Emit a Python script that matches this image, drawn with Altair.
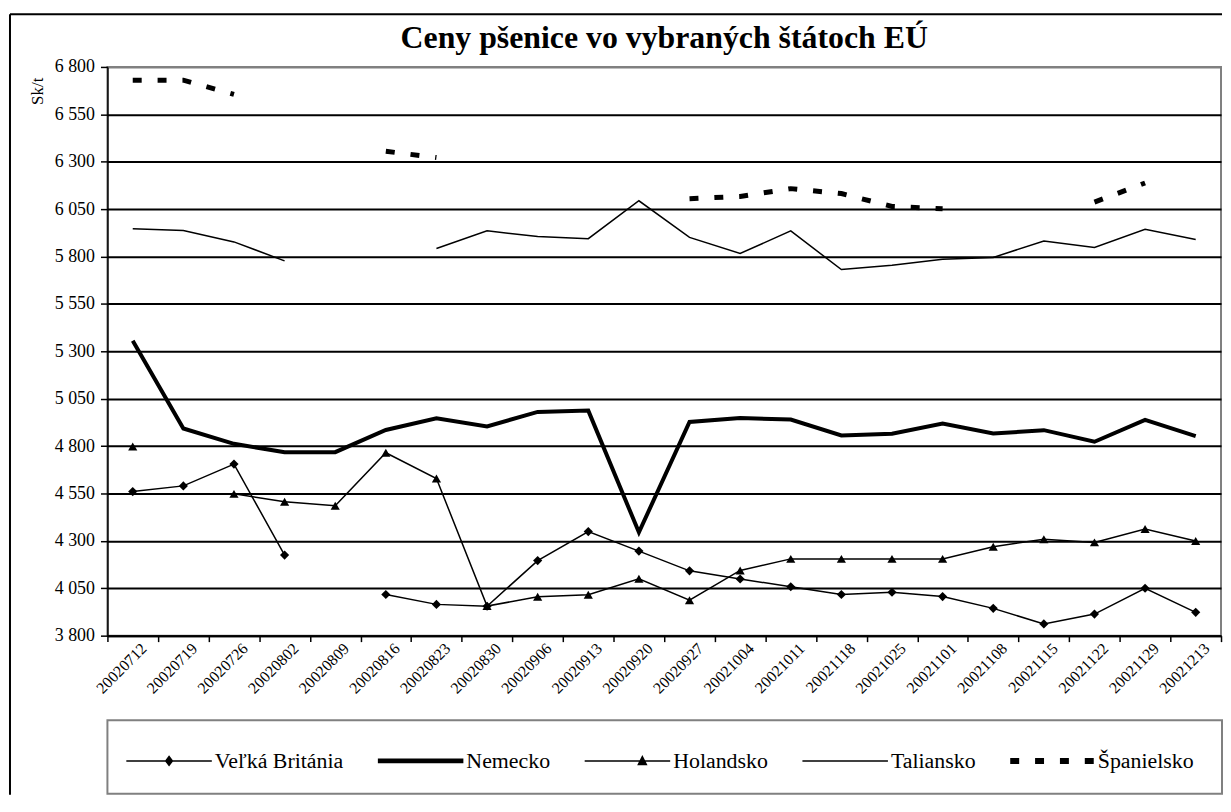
import altair as alt
import pandas as pd

dates = ["20020712", "20020719", "20020726", "20020802", "20020809", "20020816",
         "20020823", "20020830", "20020906", "20020913", "20020920", "20020927",
         "20021004", "20021011", "20021118", "20021025", "20021101", "20021108",
         "20021115", "20021122", "20021129", "20021213"]

velka_britania = [4560, 4590, 4705, 4225, None, 4017, 3965, 3955, 4196, 4349, 4246,
                  4142, 4099, 4058, 4017, 4029, 4006, 3944, 3862, 3914, 4050, 3923]
nemecko = [5356, 4893, 4812, 4768, 4768, 4885, 4947, 4904, 4980, 4987, 4345,
           4927, 4948, 4940, 4856, 4865, 4919, 4866, 4884, 4823, 4938, 4853]
holandsko = [4798, None, 4548, 4506, 4485, 4765, 4629, 3956, 4005, 4016, 4100,
             3987, 4144, 4205, 4205, 4205, 4205, 4269, 4309, 4292, 4363, 4299]
taliansko = [5946, 5937, 5877, 5777, None, None, 5842, 5936, 5905, 5894, 6094,
             5901, 5816, 5935, 5731, 5754, 5786, 5795, 5882, 5848, 5944, 5890]
spanielsko = [6730, 6730, 6655, None, None, 6355, 6322, None, None, None, None,
              6105, 6117, 6158, 6132, 6064, 6052, None, None, 6087, 6188, None]

series_names = ["Veľká Británia", "Nemecko", "Holandsko", "Taliansko", "Španielsko"]
series_values = [velka_britania, nemecko, holandsko, taliansko, spanielsko]
y_ticks = [3800, 4050, 4300, 4550, 4800, 5050, 5300, 5550, 5800, 6050, 6300, 6550, 6800]

title_text = "Ceny pšenice vo vybraných štátoch EÚ"
y_title = "Sk/t"

# legend symbols (line + marker) as filled custom SVG paths; 1 unit = 10 px
THIN = "M-4.3,-0.075L4.3,-0.075L4.3,0.075L-4.3,0.075Z"
legend_paths = [
    THIN + "M0,-0.56L0.43,0L0,0.56L-0.43,0Z",
    "M-4.3,-0.24L4.3,-0.24L4.3,0.24L-4.3,0.24Z",
    THIN + "M1.5,-0.6L2.02,0.43L0.98,0.43Z",
    THIN,
    "M-4.2,-0.3L-3.3,-0.3L-3.3,0.3L-4.2,0.3Z"
    "M-1.7,-0.3L-0.8,-0.3L-0.8,0.3L-1.7,0.3Z"
    "M0.8,-0.3L1.7,-0.3L1.7,0.3L0.8,0.3Z"
    "M3.3,-0.3L4.2,-0.3L4.2,0.3L3.3,0.3Z",
]

rows = []
for name, vals in zip(series_names, series_values):
    seg = 0
    for d, v in zip(dates, vals):
        if v is None:
            seg += 1
            continue
        rows.append({"date": d, "value": v, "series": name, "seg": f"{name}-{seg}"})
df = pd.DataFrame(rows)

SERIF = "Liberation Serif"

x_enc = alt.X("date:N", sort=dates, bandPosition=0.5,
              scale=alt.Scale(type="band", paddingInner=0, paddingOuter=0),
              axis=alt.Axis(title=None, labelAngle=-45, labelAlign="right",
                            labelBaseline="middle", labelFont=SERIF, labelFontSize=16,
                            labelColor="black", labelPadding=4, labelOffset=11,
                            tickBand="extent", tickSize=6, tickColor="black", tickWidth=1.5,
                            domainColor="black", domainWidth=2, grid=False,
                            labelOverlap=False))
y_enc = alt.Y("value:Q",
              scale=alt.Scale(domain=[3800, 6800], nice=False, zero=False),
              axis=alt.Axis(values=y_ticks, title=y_title, titleFont=SERIF,
                            titleFontSize=17, titleFontWeight="normal", titleColor="black",
                            titleAngle=270, titleX=-70, titleY=24, titleAlign="center",
                            titleBaseline="middle",
                            labelExpr="replace(format(datum.value, ','), ',', ' ')",
                            labelFont=SERIF, labelFontSize=18, labelColor="black",
                            labelPadding=6, tickSize=7, tickColor="black", tickWidth=1.5,
                            domainColor="black", domainWidth=1.5,
                            gridColor={"condition": {"test": "datum.value === 6800",
                                                     "value": "#808080"},
                                       "value": "black"},
                            gridWidth=2))

base = alt.Chart(df).encode(x=x_enc, y=y_enc, detail="seg:N")

thin = base.transform_filter(
    alt.FieldOneOfPredicate(field="series", oneOf=["Veľká Británia", "Holandsko", "Taliansko"])
).mark_line(color="black", strokeWidth=1.5)

thick = base.transform_filter(alt.datum.series == "Nemecko").mark_line(
    color="black", strokeWidth=4)

dashed = base.transform_filter(alt.datum.series == "Španielsko").mark_line(
    color="black", strokeWidth=5, strokeDash=[9, 16], strokeCap="butt")

diamonds = base.transform_filter(alt.datum.series == "Veľká Británia").mark_point(
    shape="diamond", filled=True, color="black", size=85, opacity=1)

triangles = base.transform_filter(alt.datum.series == "Holandsko").mark_point(
    shape="triangle-up", filled=True, color="black", size=85, opacity=1)

legend_layer = alt.Chart(df).transform_filter("false").mark_point(
    filled=True, color="black", opacity=1).encode(
    shape=alt.Shape("series:N",
                    scale=alt.Scale(domain=series_names, range=legend_paths),
                    legend=alt.Legend(title=None, orient="none", legendX=51, legendY=687,
                                      direction="horizontal", padding=0,
                                      symbolSize=400, symbolFillColor="black",
                                      symbolOpacity=1, symbolStrokeWidth=0,
                                      labelFont=SERIF, labelFontSize=22,
                                      labelColor="black", labelOffset=35,
                                      columnPadding=34, labelLimit=300)))

one = pd.DataFrame({"k": [0]})
frame_top = alt.Chart(one).mark_rule(color="black", strokeWidth=2).encode(
    x=alt.value(-98), x2=alt.value(1121), y=alt.value(-53))
frame_left = alt.Chart(one).mark_rule(color="black", strokeWidth=2).encode(
    x=alt.value(-98), y=alt.value(-53), y2=alt.value(732))
legend_box = alt.Chart(one).mark_rect(fill="transparent", stroke="#808080", strokeWidth=2).encode(
    x=alt.value(0), x2=alt.value(1121), y=alt.value(657), y2=alt.value(731))

chart = alt.layer(frame_top, frame_left, legend_box, thin, thick, dashed, diamonds,
                  triangles, legend_layer).properties(
    width=1120, height=572,
    title=alt.TitleParams(title_text, font=SERIF, fontSize=32, fontWeight="bold",
                          color="black", anchor="middle", offset=-42),
    padding={"left": 1, "top": 3, "right": 0, "bottom": 0},
    background="white",
).configure_view(stroke="#808080", strokeWidth=2)

chart.save("out.html", embed_options={"renderer": "svg", "actions": False})
